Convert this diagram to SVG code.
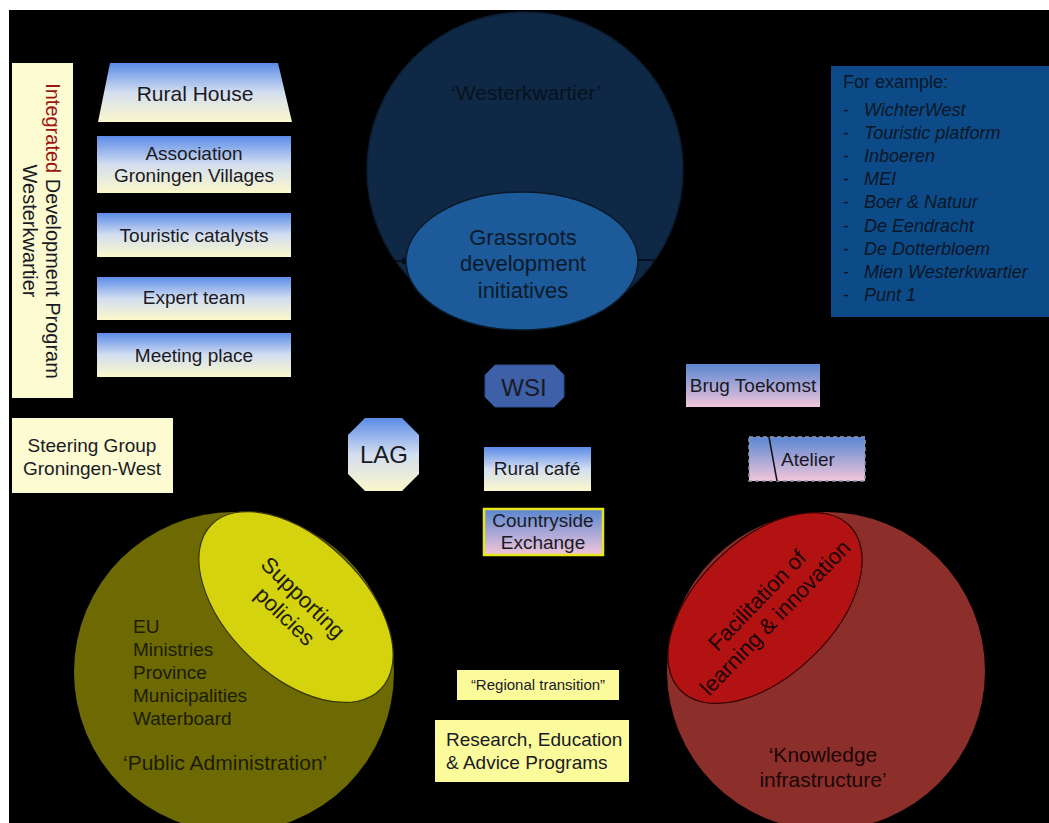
<svg xmlns="http://www.w3.org/2000/svg" width="1049" height="823" viewBox="0 0 1049 823">
<defs>
<linearGradient id="gBY" x1="0" y1="0" x2="0" y2="1">
<stop offset="0" stop-color="#5b8be8"/>
<stop offset="0.5" stop-color="#d3def0"/>
<stop offset="1" stop-color="#fbf8cb"/>
</linearGradient>
<linearGradient id="gBP" x1="0" y1="0" x2="0" y2="1">
<stop offset="0" stop-color="#5a86d2"/>
<stop offset="1" stop-color="#f2c6da"/>
</linearGradient>
<marker id="arr" viewBox="0 0 10 10" refX="9" refY="5" markerWidth="5" markerHeight="5" orient="auto">
<path d="M0,0 L10,5 L0,10 z" fill="#050a10"/>
</marker>
<style>
text{font-family:"Liberation Sans",Arial,sans-serif;fill:#1a1a24}
.c{text-anchor:middle}
.cream{fill:#fcfbd2}
.yel{fill:#fbfb9c}
.it{font-style:italic;fill:#0a1626;font-size:18px}
.dash{fill:#0a1626;font-size:18px}
</style>
</defs>
<rect x="0" y="0" width="1049" height="823" fill="#ffffff"/>
<rect x="9" y="10" width="1040" height="813" fill="#000000"/>

<g id="westerkwartier">
<circle cx="525" cy="170" r="158" fill="#0f2845" stroke="#0b1d33" stroke-width="1.5"/>
<text x="526" y="100" class="c" font-size="21" style="fill:#07121e">‘Westerkwartier’</text>
</g>

<g id="connectors" fill="none" stroke="#050a10" stroke-width="1.5">
<line x1="395" y1="261" x2="409" y2="261" marker-end="url(#arr)"/>
<line x1="636" y1="260" x2="656" y2="260"/>
<path d="M370,745 L381,745 L377,753"/>
</g>

<g id="grassroots">
<ellipse cx="522" cy="261" rx="116" ry="69" fill="#1c5a99" stroke="#0a1a2a" stroke-width="1.5"/>
<text class="c" font-size="22" style="fill:#0b1a2c"><tspan x="523" y="245">Grassroots</tspan><tspan x="523" y="271">development</tspan><tspan x="523" y="298">initiatives</tspan></text>
</g>

<g id="examples">
<rect x="831" y="66" width="218" height="251" fill="#0c4b87"/>
<text x="843" y="88" font-size="18" style="fill:#0a1626">For example:</text>
<text class="dash"><tspan x="843" y="116">-</tspan><tspan x="843" y="139">-</tspan><tspan x="843" y="162">-</tspan><tspan x="843" y="185">-</tspan><tspan x="843" y="208">-</tspan><tspan x="843" y="232">-</tspan><tspan x="843" y="255">-</tspan><tspan x="843" y="278">-</tspan><tspan x="843" y="301">-</tspan></text>
<text class="it"><tspan x="864" y="116">WichterWest</tspan><tspan x="864" y="139">Touristic platform</tspan><tspan x="864" y="162">Inboeren</tspan><tspan x="864" y="185">MEI</tspan><tspan x="864" y="208">Boer &amp; Natuur</tspan><tspan x="864" y="232">De Eendracht</tspan><tspan x="864" y="255">De Dotterbloem</tspan><tspan x="864" y="278">Mien Westerkwartier</tspan><tspan x="864" y="301">Punt 1</tspan></text>
</g>

<g id="idp">
<rect x="12" y="63" width="61" height="335" class="cream"/>
<text transform="translate(46,231) rotate(90)" class="c" font-size="20"><tspan style="fill:#9b1515">Integrated</tspan> Development Program</text>
<text transform="translate(23,231) rotate(90)" class="c" font-size="20">Westerkwartier</text>
</g>

<g id="rural-house">
<polygon points="110,63 278,63 292,122 98,122" fill="url(#gBY)"/>
<text x="195" y="101" class="c" font-size="21">Rural House</text>
</g>
<g id="association">
<rect x="97" y="136" width="194" height="57" fill="url(#gBY)"/>
<text class="c" font-size="19"><tspan x="194" y="160">Association</tspan><tspan x="194" y="182">Groningen Villages</tspan></text>
</g>
<g id="touristic">
<rect x="97" y="213" width="194" height="44" fill="url(#gBY)"/>
<text x="194" y="242" class="c" font-size="19">Touristic catalysts</text>
</g>
<g id="expert">
<rect x="97" y="277" width="194" height="43" fill="url(#gBY)"/>
<text x="194" y="304" class="c" font-size="19">Expert team</text>
</g>
<g id="meeting">
<rect x="97" y="333" width="194" height="44" fill="url(#gBY)"/>
<text x="194" y="362" class="c" font-size="19">Meeting place</text>
</g>

<g id="steering">
<rect x="12" y="418" width="161" height="75" class="cream"/>
<text class="c" font-size="19"><tspan x="92" y="452">Steering Group</tspan><tspan x="92" y="475">Groningen-West</tspan></text>
</g>

<g id="wsi">
<polygon points="495,365 554,365 564,375 564,397 554,407 495,407 485,397 485,375" fill="#3e60a8" stroke="#2e4c8c" stroke-width="1"/>
<text x="524" y="396" class="c" font-size="24">WSI</text>
</g>
<g id="lag">
<polygon points="365,418 402,418 419,435 419,474 402,491 365,491 348,474 348,435" fill="url(#gBY)"/>
<text x="384" y="463" class="c" font-size="24">LAG</text>
</g>
<g id="rural-cafe">
<rect x="484" y="447" width="107" height="44" fill="url(#gBY)"/>
<text x="537" y="475" class="c" font-size="19">Rural café</text>
</g>
<g id="countryside">
<rect x="484" y="509" width="119" height="46" fill="url(#gBP)" stroke="#e6e61a" stroke-width="2.5"/>
<text class="c" font-size="19"><tspan x="543" y="527">Countryside</tspan><tspan x="543" y="549">Exchange</tspan></text>
</g>
<g id="brug">
<rect x="686" y="364" width="134" height="43" fill="url(#gBP)"/>
<text x="753" y="392" class="c" font-size="19">Brug Toekomst</text>
</g>
<g id="atelier">
<rect x="749" y="437" width="116" height="44" fill="url(#gBP)" stroke="#8f97aa" stroke-width="1.5" stroke-dasharray="4 3"/>
<line x1="769" y1="437" x2="777" y2="481" stroke="#111" stroke-width="1.5"/>
<text x="808" y="466" class="c" font-size="19">Atelier</text>
</g>

<g id="public-administration">
<circle cx="234" cy="672" r="160" fill="#6d6903"/>
<ellipse cx="296" cy="607" rx="118" ry="68" transform="rotate(44 296 607)" fill="#d5d20e" stroke="#3a3800" stroke-width="1.2"/>
<g transform="translate(293,608) rotate(44)">
<text class="c" font-size="22" style="fill:#1c1c00"><tspan x="0" y="-7">Supporting</tspan><tspan x="0" y="19">policies</tspan></text>
</g>
<text font-size="19" style="fill:#1c1c00"><tspan x="133" y="633">EU</tspan><tspan x="133" y="656">Ministries</tspan><tspan x="133" y="679">Province</tspan><tspan x="133" y="702">Municipalities</tspan><tspan x="133" y="725">Waterboard</tspan></text>
<text x="123" y="770" font-size="21" style="fill:#1c1c00">‘Public Administration’</text>
</g>

<g id="knowledge">
<circle cx="826" cy="671" r="159" fill="#8c2f2b"/>
<ellipse cx="765" cy="608" rx="118" ry="68" transform="rotate(-44 765 608)" fill="#b21212" stroke="#300" stroke-width="1.2"/>
<g transform="translate(766,609) rotate(-46)">
<text class="c" font-size="22" style="fill:#1c0505"><tspan x="0" y="-5">Facilitation of</tspan><tspan x="0" y="20">learning &amp; innovation</tspan></text>
</g>
<text class="c" font-size="21" style="fill:#1c0505"><tspan x="823" y="762">‘Knowledge</tspan><tspan x="823" y="787">infrastructure’</tspan></text>
</g>

<g id="regional">
<rect x="457" y="670" width="162" height="30" class="yel"/>
<text x="538" y="690" class="c" font-size="15">“Regional transition”</text>
</g>
<g id="research">
<rect x="435" y="720" width="194" height="62" class="yel"/>
<text font-size="19"><tspan x="446" y="746">Research, Education</tspan><tspan x="446" y="769">&amp; Advice Programs</tspan></text>
</g>
</svg>
